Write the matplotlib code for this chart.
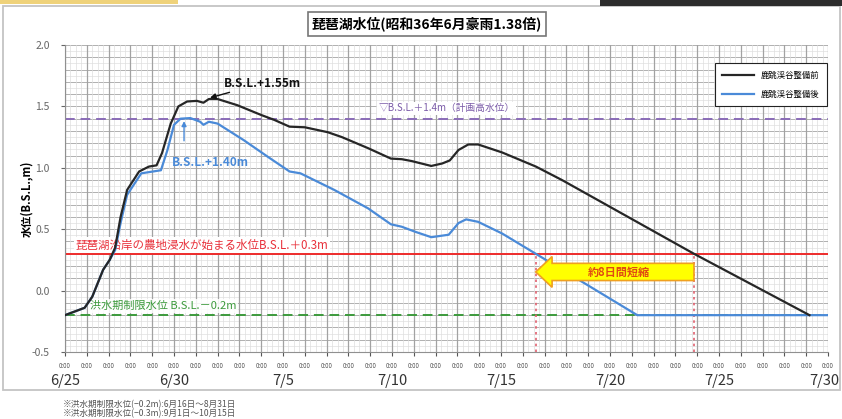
import matplotlib
matplotlib.use("Agg")
import matplotlib.pyplot as plt
from matplotlib.patches import Rectangle
from matplotlib.ticker import MultipleLocator, FormatStrFormatter

plt.rcParams["font.family"] = ["Noto Sans CJK JP", "DejaVu Sans"]

# days counted from 6/25 0:00
before_days = [0, 0.9, 1.25, 1.75, 2.05, 2.3, 2.55, 2.85, 3.4, 3.85, 4.2, 4.45, 4.85,
               5.2, 5.6, 6.05, 6.35, 6.6, 7.0, 7.9, 9.0, 9.6, 10.3, 11.0, 12.05, 12.7,
               13.9, 14.95, 15.45, 15.9, 16.8, 17.3, 17.65, 18.05, 18.5, 18.95, 20.05,
               21.6, 22.8, 28.85, 34.15]
before_level = [-0.2, -0.14, -0.05, 0.17, 0.25, 0.35, 0.6, 0.82, 0.97, 1.01, 1.02, 1.12, 1.36,
                1.50, 1.54, 1.545, 1.53, 1.56, 1.56, 1.51, 1.43, 1.39, 1.335, 1.33, 1.29, 1.25,
                1.16, 1.075, 1.07, 1.055, 1.015, 1.035, 1.06, 1.145, 1.19, 1.19, 1.125,
                1.01, 0.9, 0.3, -0.2]

after_days = [0, 0.9, 1.25, 1.75, 2.05, 2.3, 2.55, 2.85, 3.5, 4.4, 4.7, 5.0, 5.3, 5.75,
              6.2, 6.35, 6.6, 7.0, 8.2, 9.3, 10.3, 10.8, 12.35, 13.9, 14.95, 15.45, 16.05,
              16.8, 17.6, 18.05, 18.4, 18.95, 20.05, 21.5, 26.25, 35]
after_level = [-0.2, -0.14, -0.05, 0.17, 0.25, 0.33, 0.55, 0.78, 0.955, 0.98, 1.145, 1.35, 1.40, 1.405,
               1.375, 1.35, 1.375, 1.36, 1.225, 1.09, 0.97, 0.955, 0.82, 0.67, 0.54, 0.52, 0.48,
               0.435, 0.455, 0.55, 0.58, 0.56, 0.465, 0.31, -0.2, -0.2]

date_labels = ["6/25", "6/30", "7/5", "7/10", "7/15", "7/20", "7/25", "7/30"]
n_days = 35

plan_high = 1.4
flood_start = 0.3
limit_level = -0.2
peak_before = 1.55
peak_after = 1.40

labels = ["鹿跳渓谷整備前", "鹿跳渓谷整備後"]


def last_crossing(xs, ys, level):
    for i in range(len(xs) - 1, 0, -1):
        y0, y1 = ys[i - 1], ys[i]
        if (y0 - level) * (y1 - level) <= 0 and y0 != y1:
            return xs[i - 1] + (level - y0) * (xs[i] - xs[i - 1]) / (y1 - y0)
    return None


fig = plt.figure(figsize=(8.42, 4.19), dpi=100)
ax = fig.add_axes([0.0772, 0.1599, 0.9062, 0.7327])

# outer frame and screenshot strips
fig.patches.append(Rectangle((3 / 842, 1 - 390 / 419), 837 / 842, 384 / 419,
                             transform=fig.transFigure, fill=False,
                             edgecolor="#c4c4c4", lw=1.3))
fig.patches.append(Rectangle((0, 1 - 4 / 419), 178 / 842, 4 / 419,
                             transform=fig.transFigure, color="#efd27a", lw=0))
fig.patches.append(Rectangle((600 / 842, 1 - 6 / 419), 242 / 842, 6 / 419,
                             transform=fig.transFigure, color="#2c2c2c", lw=0))

ax.set_xlim(0, n_days)
ax.set_ylim(-0.5, 2.0)

# grid
ax.xaxis.set_major_locator(MultipleLocator(1))
ax.xaxis.set_minor_locator(MultipleLocator(0.25))
ax.yaxis.set_major_locator(MultipleLocator(0.5))
ax.yaxis.set_minor_locator(MultipleLocator(0.05))
for i in range(0, 51):
    y = -0.5 + i * 0.05
    strong = i % 2 == 0
    ax.axhline(y, color="#b0b0b0" if strong else "#e0e0e0",
               lw=0.7 if strong else 0.5, zorder=0)
for i in range(0, n_days * 4 + 1):
    x = i * 0.25
    strong = i % 4 == 0
    ax.axvline(x, color="#a2a2a2" if strong else "#dedede",
               lw=0.9 if strong else 0.5, zorder=0)

for s in ["top", "right"]:
    ax.spines[s].set_visible(False)
ax.spines["left"].set_color("#909090")
ax.spines["bottom"].set_color("#909090")

ax.set_xticks(range(n_days + 1))
ax.set_xticklabels(["0:00"] * (n_days + 1))
ax.tick_params(axis="x", which="major", labelsize=4.5, colors="#555555", length=3, pad=4)
ax.tick_params(axis="x", which="minor", length=0)
ax.tick_params(axis="y", which="major", labelsize=7.5, colors="#666666", length=3, pad=8)
ax.tick_params(axis="y", which="minor", length=0)
ax.yaxis.set_major_formatter(FormatStrFormatter("%.1f"))

for i, lab in enumerate(date_labels):
    last = i == len(date_labels) - 1
    ax.text(i * 5 + (0.5 if last else 0), -0.094, lab, transform=ax.get_xaxis_transform(),
            ha="right" if last else "center", va="center", fontsize=10.5, color="#333333")

ax.set_ylabel("水位(B.S.L.,m)", fontsize=8, fontweight="bold", labelpad=-1)

# reference levels
ax.axhline(plan_high, color="#8a6cb8", lw=1.4, ls=(0, (5, 3)), zorder=2)
ax.axhline(flood_start, color="#ee2c2c", lw=1.4, zorder=2)
ax.axhline(limit_level, color="#3c9a3c", lw=1.4, ls=(0, (5, 3)), zorder=2)

ax.text(17.5, 1.485, "▽B.S.L.＋1.4m（計画高水位）", ha="center", va="center",
        fontsize=7, color="#7b5ba8", zorder=3,
        bbox=dict(boxstyle="square,pad=0.15", fc="white", ec="none"))
ax.text(0.5, 0.37, "琵琶湖沿岸の農地浸水が始まる水位B.S.L.＋0.3m", ha="left", va="center",
        fontsize=8.3, color="#e8303a", zorder=3,
        bbox=dict(boxstyle="square,pad=0.15", fc="white", ec="none"))
ax.text(1.15, -0.125, "洪水期制限水位 B.S.L.－0.2m", ha="left", va="center",
        fontsize=8, color="#3c9a3c", zorder=3,
        bbox=dict(boxstyle="square,pad=0.15", fc="white", ec="none", alpha=0.85))

# series
ax.plot(after_days, after_level, color="#4a8ad8", lw=1.6, zorder=4, label=labels[1])
ax.plot(before_days, before_level, color="#262626", lw=1.6, zorder=5, label=labels[0])

# crossing of flood level and shortening arrow
x_after = last_crossing(after_days, after_level, flood_start)
x_before = last_crossing(before_days, before_level, flood_start)
ax.vlines([x_after, x_before], -0.5, flood_start, colors="#e0606e", lw=1.2,
          linestyles=(0, (1.5, 2)), zorder=3)
ax.arrow(x_before, 0.152, x_after - x_before, 0, width=0.14, head_width=0.25,
         head_length=0.75, length_includes_head=True, fc="#ffff00", ec="#f0a020",
         lw=1.2, zorder=6)
ax.text((x_after + x_before) / 2 + 0.2, 0.152, "約8日間短縮", ha="center", va="center",
        fontsize=8, fontweight="bold", color="#e04a12", zorder=7)

# peak annotations
ax.annotate("B.S.L.+" + f"{peak_before:.2f}m", xy=(6.65, 1.57), xytext=(7.3, 1.69),
            fontsize=8.5, fontweight="bold", color="#111111", va="center", ha="left",
            arrowprops=dict(arrowstyle="-|>", color="#111111", lw=1.0,
                            shrinkA=0, shrinkB=0, mutation_scale=8), zorder=7)
ax.annotate("", xy=(5.46, 1.38), xytext=(5.46, 1.22),
            arrowprops=dict(arrowstyle="-|>", color="#4a8ad8", lw=1.0,
                            shrinkA=0, shrinkB=0, mutation_scale=7), zorder=7)
ax.text(4.9, 1.04, "B.S.L.+" + f"{peak_after:.2f}m", fontsize=8.5, fontweight="bold",
        color="#4a8ad8", ha="left", va="center", zorder=7)

# legend
h, l = ax.get_legend_handles_labels()
leg = ax.legend(h[::-1], l[::-1], loc="upper right", bbox_to_anchor=(1.004, 0.955),
                fontsize=6, handlelength=3.8, labelspacing=1.2, borderpad=0.9,
                fancybox=False, framealpha=1, edgecolor="#222222")
leg.get_frame().set_linewidth(0.8)

# title
fig.text(0.507, 0.943, "琵琶湖水位(昭和36年6月豪雨1.38倍)", ha="center", va="center",
         fontsize=10, fontweight="bold",
         bbox=dict(boxstyle="square,pad=0.3", fc="white", ec="#777777", lw=1.2))

# notes
fig.text(0.074, 0.033, "※洪水期制限水位(−0.2m):6月16日〜8月31日", fontsize=6.2,
         color="#555555", va="center")
fig.text(0.074, 0.012, "※洪水期制限水位(−0.3m):9月1日〜10月15日", fontsize=6.2,
         color="#555555", va="center")

fig.savefig("out.png", dpi=100)
